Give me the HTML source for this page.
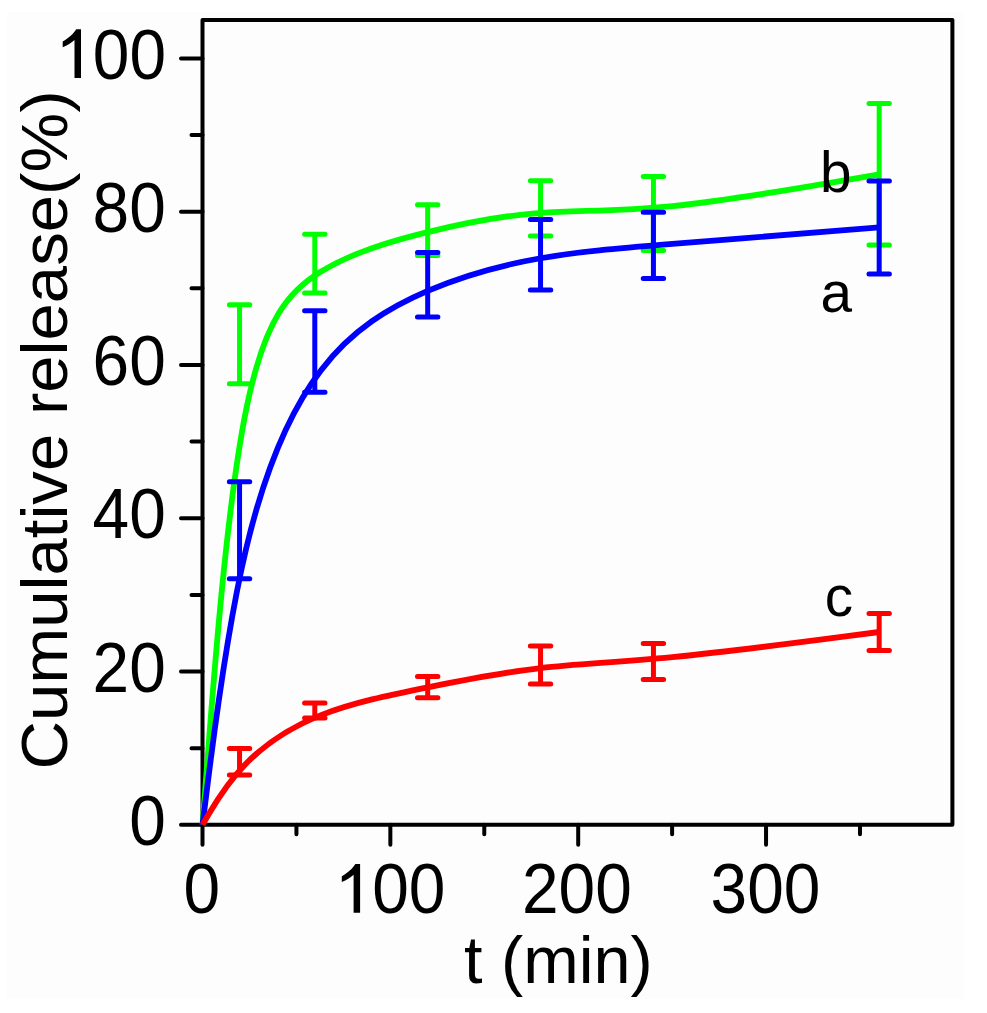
<!DOCTYPE html>
<html><head><meta charset="utf-8"><style>
html,body{margin:0;padding:0;background:#fff;width:987px;height:1013px;overflow:hidden;position:relative}
svg text{font-family:"Liberation Sans",sans-serif;fill:#000;font-kerning:none}
</style></head><body>
<svg width="987" height="1013" viewBox="0 0 987 1013" style="position:absolute;left:0;top:0">
<rect x="7" y="12" width="957" height="987" fill="#fdfdfd"/>
<rect x="202.50" y="20.10" width="749.90" height="804.70" fill="none" stroke="#000" stroke-width="4" stroke-linejoin="round"/>
<path d="M202.50 824.80H181.00M202.50 748.16H191.50M202.50 671.52H181.00M202.50 594.88H191.50M202.50 518.24H181.00M202.50 441.60H191.50M202.50 364.96H181.00M202.50 288.32H191.50M202.50 211.68H181.00M202.50 135.04H191.50M202.50 58.40H181.00M202.50 824.80V844.80M296.43 824.80V834.30M390.35 824.80V844.80M484.28 824.80V834.30M578.20 824.80V844.80M672.12 824.80V834.30M766.05 824.80V844.80M859.98 824.80V834.30" stroke="#000" stroke-width="4" stroke-linecap="round" fill="none"/>
<path d="M202.50 824.80C202.50 824.80 202.50 824.80 208.67 744.70C214.85 664.60 227.20 504.40 245.91 410.88C264.63 317.37 289.71 290.53 321.07 271.53C352.42 252.52 390.05 241.33 427.68 232.10C465.30 222.87 502.93 215.58 540.55 212.81C578.18 210.03 615.81 211.77 672.25 206.10C728.68 200.43 803.94 187.37 841.56 180.83C879.19 174.30 879.19 174.30 879.19 174.30" fill="none" stroke="#00ff00" stroke-width="5.8" stroke-linejoin="round" stroke-linecap="butt"/>
<path d="M239.55 304.70V383.70M229.35 304.70H249.75M229.35 383.70H249.75" fill="none" stroke="#00ff00" stroke-width="5.0" stroke-linecap="round"/>
<path d="M314.80 234.30V293.10M304.60 234.30H325.00M304.60 293.10H325.00" fill="none" stroke="#00ff00" stroke-width="5.0" stroke-linecap="round"/>
<path d="M427.68 204.70V255.60M417.48 204.70H437.88M417.48 255.60H437.88" fill="none" stroke="#00ff00" stroke-width="5.0" stroke-linecap="round"/>
<path d="M540.55 180.70V235.90M530.35 180.70H550.75M530.35 235.90H550.75" fill="none" stroke="#00ff00" stroke-width="5.0" stroke-linecap="round"/>
<path d="M653.43 176.50V250.50M643.23 176.50H663.63M643.23 250.50H663.63" fill="none" stroke="#00ff00" stroke-width="5.0" stroke-linecap="round"/>
<path d="M879.19 103.60V245.00M868.99 103.60H889.39M868.99 245.00H889.39" fill="none" stroke="#00ff00" stroke-width="5.0" stroke-linecap="round"/>
<path d="M202.50 824.80C202.50 824.80 202.50 824.80 208.67 775.71C214.85 726.62 227.20 628.43 245.91 549.55C264.63 470.67 289.71 411.08 321.07 370.17C352.42 329.25 390.05 307.00 427.68 290.89C465.30 274.78 502.93 264.82 540.55 258.25C578.18 251.68 615.81 248.52 672.25 243.95C728.68 239.38 803.94 233.42 841.56 230.43C879.19 227.45 879.19 227.45 879.19 227.45" fill="none" stroke="#0000ff" stroke-width="5.8" stroke-linejoin="round" stroke-linecap="butt"/>
<path d="M239.55 481.70V578.80M229.35 481.70H249.75M229.35 578.80H249.75" fill="none" stroke="#0000ff" stroke-width="5.0" stroke-linecap="round"/>
<path d="M314.80 310.70V392.30M304.60 310.70H325.00M304.60 392.30H325.00" fill="none" stroke="#0000ff" stroke-width="5.0" stroke-linecap="round"/>
<path d="M427.68 252.50V317.00M417.48 252.50H437.88M417.48 317.00H437.88" fill="none" stroke="#0000ff" stroke-width="5.0" stroke-linecap="round"/>
<path d="M540.55 219.60V290.10M530.35 219.60H550.75M530.35 290.10H550.75" fill="none" stroke="#0000ff" stroke-width="5.0" stroke-linecap="round"/>
<path d="M653.43 212.30V278.40M643.23 212.30H663.63M643.23 278.40H663.63" fill="none" stroke="#0000ff" stroke-width="5.0" stroke-linecap="round"/>
<path d="M879.19 181.00V273.90M868.99 181.00H889.39M868.99 273.90H889.39" fill="none" stroke="#0000ff" stroke-width="5.0" stroke-linecap="round"/>
<path d="M202.50 824.80C202.50 824.80 202.50 824.80 208.67 814.29C214.85 803.78 227.20 782.77 245.91 763.72C264.63 744.67 289.71 727.58 321.07 715.15C352.42 702.72 390.05 694.93 427.68 687.35C465.30 679.77 502.93 672.38 540.55 668.10C578.18 663.82 615.81 662.63 672.25 657.13C728.68 651.63 803.94 641.82 841.56 636.91C879.19 632.00 879.19 632.00 879.19 632.00" fill="none" stroke="#ff0000" stroke-width="5.8" stroke-linejoin="round" stroke-linecap="butt"/>
<path d="M239.55 748.60V774.90M229.35 748.60H249.75M229.35 774.90H249.75" fill="none" stroke="#ff0000" stroke-width="5.0" stroke-linecap="round"/>
<path d="M314.80 703.00V718.00M304.60 703.00H325.00M304.60 718.00H325.00" fill="none" stroke="#ff0000" stroke-width="5.0" stroke-linecap="round"/>
<path d="M427.68 676.60V697.70M417.48 676.60H437.88M417.48 697.70H437.88" fill="none" stroke="#ff0000" stroke-width="5.0" stroke-linecap="round"/>
<path d="M540.55 646.00V684.00M530.35 646.00H550.75M530.35 684.00H550.75" fill="none" stroke="#ff0000" stroke-width="5.0" stroke-linecap="round"/>
<path d="M653.43 643.40V679.50M643.23 643.40H663.63M643.23 679.50H663.63" fill="none" stroke="#ff0000" stroke-width="5.0" stroke-linecap="round"/>
<path d="M879.19 613.50V650.50M868.99 613.50H889.39M868.99 650.50H889.39" fill="none" stroke="#ff0000" stroke-width="5.0" stroke-linecap="round"/>
</svg>
<svg width="987" height="1013" style="position:absolute;left:0;top:0">
<text transform="translate(129.18 844.90) scale(1 1.0600)" font-size="65.80">0</text>
<text transform="translate(92.58 691.62) scale(1 1.0600)" font-size="65.80">20</text>
<text transform="translate(92.58 538.34) scale(1 1.0600)" font-size="65.80">40</text>
<text transform="translate(92.58 385.06) scale(1 1.0600)" font-size="65.80">60</text>
<text transform="translate(92.58 231.78) scale(1 1.0600)" font-size="65.80">80</text>
<path transform="translate(0.00 0.00)" d="M81.0 78.0L81.0 29.2L76.3 29.2C73.6 33.4 68.6 38.3 62.7 41.4L62.7 47.3C67.4 45.3 71.4 42.6 74.5 39.9L74.5 78.0Z" fill="#000"/>
<text transform="translate(92.83 78.50) scale(1 1.0600)" font-size="65.80">00</text>
<text transform="translate(183.40 912.80) scale(1 1.0600)" font-size="65.80">0</text>
<text transform="translate(521.99 912.80) scale(1 1.0600)" font-size="65.80">200</text>
<text transform="translate(710.54 912.80) scale(1 1.0600)" font-size="65.80">300</text>
<path transform="translate(279.10 834.80)" d="M81.0 78.0L81.0 29.2L76.3 29.2C73.6 33.4 68.6 38.3 62.7 41.4L62.7 47.3C67.4 45.3 71.4 42.6 74.5 39.9L74.5 78.0Z" fill="#000"/>
<text transform="translate(372.13 912.80) scale(1 1.0600)" font-size="65.80">00</text>
<text transform="translate(464.09 983.00) scale(1 1.0100)" font-size="66.60">t (min)</text>
<text transform="translate(66.60 769.61) rotate(-90) scale(1 0.9680)" font-size="67.15">Cumulative release(%)</text>
<text transform="translate(819.95 191.80) scale(1 1.0000)" font-size="56.70">b</text>
<text transform="translate(820.48 312.00) scale(1 1.0000)" font-size="56.70">a</text>
<text transform="translate(824.67 616.40) scale(1 1.0000)" font-size="56.70">c</text>
</svg>
</body></html>
